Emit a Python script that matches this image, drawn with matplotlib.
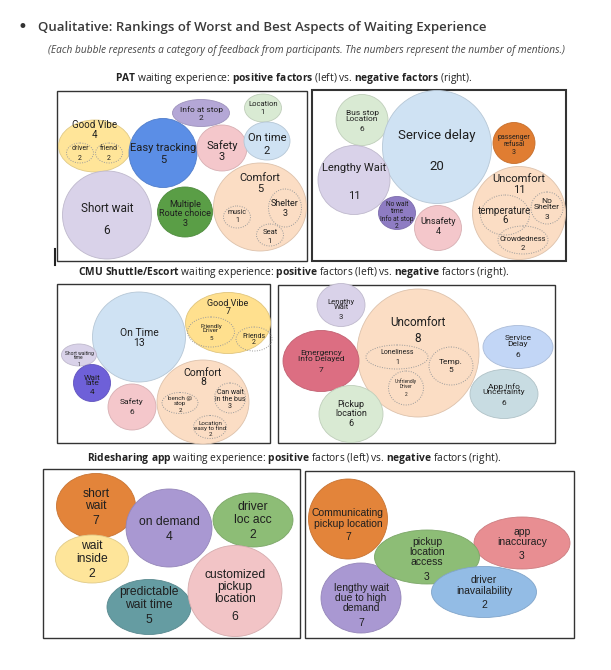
import matplotlib
matplotlib.use('Agg')
import matplotlib.pyplot as plt
from matplotlib.patches import Ellipse, Rectangle
from matplotlib.colors import to_rgb

plt.rcParams['mathtext.fontset'] = 'custom'
plt.rcParams['mathtext.rm'] = 'Open Sans'
plt.rcParams['mathtext.bf'] = 'Open Sans:bold'

# ---------------- data ----------------
title = 'Qualitative: Rankings of Worst and Best Aspects of Waiting Experience'
subtitle = ('(Each bubble represents a category of feedback from participants. '
            'The numbers represent the number of mentions.)')
section_titles = [
    r'$\mathbf{PAT}$ waiting experience: $\mathbf{positive\ factors}$ (left) vs. $\mathbf{negative\ factors}$ (right).',
    r'$\mathbf{CMU\ Shuttle/Escort}$ waiting experience: $\mathbf{positive}$ factors (left) vs. $\mathbf{negative}$ factors (right).',
    r'$\mathbf{Ridesharing\ app}$ waiting experience: $\mathbf{positive}$ factors (left) vs. $\mathbf{negative}$ factors (right).',
]

# PAT
pat_pos_labels = ['Good Vibe', 'Easy tracking', 'Info at stop', 'Location', 'Safety',
                  'On time', 'Short wait', 'Multiple\nRoute choice', 'Comfort']
pat_pos_counts = [4, 5, 2, 1, 3, 2, 6, 3, 5]
pat_pos_sub_labels = ['driver', 'friend', 'Shelter', 'music', 'Seat']
pat_pos_sub_counts = [2, 2, 3, 1, 1]

pat_neg_labels = ['Bus stop\nLocation', 'Service delay', 'passenger\nrefusal', 'Lengthy Wait',
                  'No wait\ntime\nInfo at stop', 'Unsafety', 'Uncomfort']
pat_neg_counts = [6, 20, 3, 11, 2, 4, 11]
pat_neg_sub_labels = ['temperature', 'No\nShelter', 'Crowdedness']
pat_neg_sub_counts = [6, 3, 2]

# CMU Shuttle/Escort
cmu_pos_labels = ['On Time', 'Good Vibe', 'Short waiting\ntime', 'Wait\nlate', 'Safety', 'Comfort']
cmu_pos_counts = [13, 7, 1, 4, 6, 8]
cmu_pos_sub_labels = ['Friendly\nDriver', 'Friends', 'bench @\nstop', 'Can wait\nin the bus',
                      'Location\neasy to find']
cmu_pos_sub_counts = [5, 2, 2, 3, 2]

cmu_neg_labels = ['Lengthy\nWait', 'Uncomfort', 'Emergency\nInfo Delayed', 'Pickup\nlocation',
                  'Service\nDelay', 'App Info\nUncertainty']
cmu_neg_counts = [3, 8, 7, 6, 6, 6]
cmu_neg_sub_labels = ['Loneliness', 'Temp.', 'Unfriendly\nDriver']
cmu_neg_sub_counts = [1, 5, 2]

# Ridesharing app
ride_pos_labels = ['short\nwait', 'on demand', 'wait\ninside', 'driver\nloc acc',
                   'predictable\nwait time', 'customized\npickup\nlocation']
ride_pos_counts = [7, 4, 2, 2, 5, 6]

ride_neg_labels = ['Communicating\npickup location', 'app\ninaccuracy', 'lengthy wait\ndue to high\ndemand',
                   'pickup\nlocation\naccess', 'driver\ninavailability']
ride_neg_counts = [7, 3, 7, 3, 2]

# ---------------- layout (pixel units) ----------------
# cx, cy, width, height, label y, count y, font size
pat_pos_layout = [(95, 146, 73, 52, 125, 135, 7), (163, 153, 68, 69, 148, 160, 8),
                  (201, 113, 57, 27, 110, 118, 6), (263, 108, 37, 28, 104, 112, 5.5),
                  (222, 148, 50, 46, 146, 157, 8), (267, 141, 46, 38, 138, 151, 8),
                  (107, 215, 89, 88, 208, 231, 8.5), (185, 212, 55, 50, 209, 224, 6.5),
                  (260, 207, 93, 88, 178, 189, 8)]
pat_pos_colors = ['#FFE599', '#5B8EE6', '#B4A7D6', '#D9EAD3', '#F4C7CB', '#CFE2F3',
                  '#D9D2E9', '#5A9E46', '#FBDDC4']
pat_pos_sub_layout = [(80, 153, 27, 20, 149, 158, 5), (109, 153, 27, 20, 149, 158, 5),
                      (285, 208, 33, 38, 203, 213, 6.5), (237, 217, 27, 22, 212, 221, 5),
                      (270, 235, 27, 22, 232, 241, 5.5)]

pat_neg_layout = [(362, 120, 52, 51, 116, 129, 6), (437, 147, 109, 113, 135, 166, 9.5),
                  (514, 143, 42, 41, 141, 152, 5), (354, 180, 72, 69, 168, 196, 8),
                  (397, 213, 37, 33, 212, 227, 4.8), (438, 228, 47, 45, 222, 232, 6.5),
                  (519, 213, 93, 93, 179, 190, 8)]
pat_neg_colors = ['#D9EAD3', '#CFE2F3', '#E07D32', '#D9D2E9', '#8E7CC3', '#F4C7CB', '#FBDDC4']
pat_neg_sub_layout = [(505, 215, 49, 40, 211, 220, 7), (547, 208, 32, 32, 204, 217, 6),
                      (523, 240, 50, 28, 239, 248, 5.5)]

cmu_pos_layout = [(139, 337, 93, 90, 333, 343, 7.5), (228, 323, 85, 61, 303, 312, 6.5),
                  (79, 355, 35, 22, 355.5, 364, 3.5), (92, 383, 37, 37, 380.5, 392, 6),
                  (132, 407, 48, 46, 402, 412, 6), (203, 402, 92, 84, 373, 382, 7.5)]
cmu_pos_colors = ['#CFE2F3', '#FFE08E', '#D9D2E9', '#6E60D8', '#F4C7CB', '#FBDDC4']
cmu_pos_sub_layout = [(211, 332, 47, 30, 328.5, 338, 4.5), (254, 339, 36, 24, 336, 343, 5),
                      (180, 403, 36, 21, 401.3, 410, 4.5), (230, 398, 31, 30, 396, 407, 5),
                      (210, 427, 33, 23, 426, 435, 4.5)]

cmu_neg_layout = [(341, 305, 48, 43, 304.5, 317, 5.5), (418, 353, 122, 128, 322, 339, 8.5),
                  (321, 361, 76, 61, 356, 370, 6), (351, 414, 64, 57, 409, 423, 6.5),
                  (518, 347, 70, 43, 341, 355, 6), (504, 394, 68, 49, 389, 403, 6)]
cmu_neg_colors = ['#D9D2E9', '#FBDDC4', '#DC6E82', '#D9EAD3', '#C2D6F6', '#C8DCE2']
cmu_neg_sub_layout = [(397, 357, 62, 24, 353, 362, 5), (451, 366, 44, 38, 362, 370, 6),
                      (406, 388, 35, 34, 383.5, 395, 3.5)]

ride_pos_layout = [(96, 506, 79, 65, 500, 521, 8.7), (169, 528, 86, 78, 522, 537, 8.7),
                   (92, 559, 73, 48, 552.5, 574, 8.7), (253, 520, 80, 54, 513.5, 535, 8.7),
                   (149, 607, 84, 55, 598.5, 620, 8.7), (235, 591, 94, 91, 587, 617, 8.7)]
ride_pos_colors = ['#E3843A', '#A998D2', '#FEE59A', '#8DBD76', '#659CA2', '#F2C4C6']

ride_neg_layout = [(348, 519, 79, 80, 518.5, 537, 7.5), (522, 543, 96, 52, 537, 556, 7.5),
                   (361, 598, 80, 70, 598, 623, 7.5), (427, 557, 105, 54, 552, 577, 7.5),
                   (484, 592, 105, 51, 585.5, 605, 7.5)]
ride_neg_colors = ['#E3843A', '#E88E92', '#A998D2', '#8DBD76', '#93BCE5']

# panel frames: x0, y0, x1, y1, line width
panels = [(57, 91, 307, 261, 1.0), (312, 90, 566, 261, 1.5),
          (57, 284, 270, 443, 1.0), (278, 285, 555, 443, 1.0),
          (43, 469, 300, 638, 1.0), (305, 471, 574, 638, 1.0)]


def darker(c, f=0.88):
    r, g, b = to_rgb(c)
    return (r * f, g * f, b * f)


def draw_bubbles(ax, labels, counts, layout, colors, family, ls=0.95):
    for lab, n, lay, c in zip(labels, counts, layout, colors):
        cx, cy, w, h, ly, ny, fs = lay
        ax.add_patch(Ellipse((cx, cy), w, h, facecolor=c, edgecolor=darker(c), lw=0.6))
        ax.text(cx, ly, lab, ha='center', va='center', fontsize=fs, family=family,
                color='#1f1f1f', linespacing=ls)
        ax.text(cx, ny, str(n), ha='center', va='center', fontsize=fs, family=family,
                color='#1f1f1f')


def draw_subs(ax, labels, counts, layout):
    for lab, n, lay in zip(labels, counts, layout):
        cx, cy, w, h, ly, ny, fs = lay
        ax.add_patch(Ellipse((cx, cy), w, h, facecolor='none', edgecolor='#9a9a9a',
                             lw=0.7, ls=(0, (1, 1.5))))
        ax.text(cx, ly, lab, ha='center', va='center', fontsize=fs, family='Roboto',
                color='#1f1f1f', linespacing=0.95)
        ax.text(cx, ny, str(n), ha='center', va='center', fontsize=fs, family='Roboto',
                color='#1f1f1f')


fig = plt.figure(figsize=(6.11, 6.70), dpi=100)
ax = fig.add_axes([0, 0, 1, 1])
ax.set_xlim(0, 611)
ax.set_ylim(670, 0)
ax.axis('off')

# headings
ax.text(22, 27, '\u2022', ha='center', va='center', fontsize=12, color='#333333')
ax.text(38, 27, title, ha='left', va='center', fontsize=9.5, family='Open Sans',
        weight='semibold', color='#3a3a3a')
ax.text(306, 50, subtitle, ha='center', va='center', fontsize=7.3, family='Open Sans',
        style='italic', color='#444444')
for ty, t in zip([79, 273, 459], section_titles):
    ax.text(294, ty, t, ha='center', va='center', fontsize=7.4, family='Open Sans',
            color='#222222')

# frames
for x0, y0, x1, y1, lw in panels:
    ax.add_patch(Rectangle((x0, y0), x1 - x0, y1 - y0, facecolor='none',
                           edgecolor='#333333', lw=lw))
ax.plot([55, 55], [249, 265], color='#222222', lw=1.5)

draw_bubbles(ax, pat_pos_labels, pat_pos_counts, pat_pos_layout, pat_pos_colors, 'Roboto')
draw_subs(ax, pat_pos_sub_labels, pat_pos_sub_counts, pat_pos_sub_layout)
draw_bubbles(ax, pat_neg_labels, pat_neg_counts, pat_neg_layout, pat_neg_colors, 'Roboto')
draw_subs(ax, pat_neg_sub_labels, pat_neg_sub_counts, pat_neg_sub_layout)

draw_bubbles(ax, cmu_pos_labels, cmu_pos_counts, cmu_pos_layout, cmu_pos_colors, 'Roboto')
draw_subs(ax, cmu_pos_sub_labels, cmu_pos_sub_counts, cmu_pos_sub_layout)
draw_bubbles(ax, cmu_neg_labels, cmu_neg_counts, cmu_neg_layout, cmu_neg_colors, 'Roboto')
draw_subs(ax, cmu_neg_sub_labels, cmu_neg_sub_counts, cmu_neg_sub_layout)

draw_bubbles(ax, ride_pos_labels, ride_pos_counts, ride_pos_layout, ride_pos_colors,
             'Liberation Sans', ls=1.05)
draw_bubbles(ax, ride_neg_labels, ride_neg_counts, ride_neg_layout, ride_neg_colors,
             'Liberation Sans', ls=1.05)

fig.savefig('out.png', dpi=100)
